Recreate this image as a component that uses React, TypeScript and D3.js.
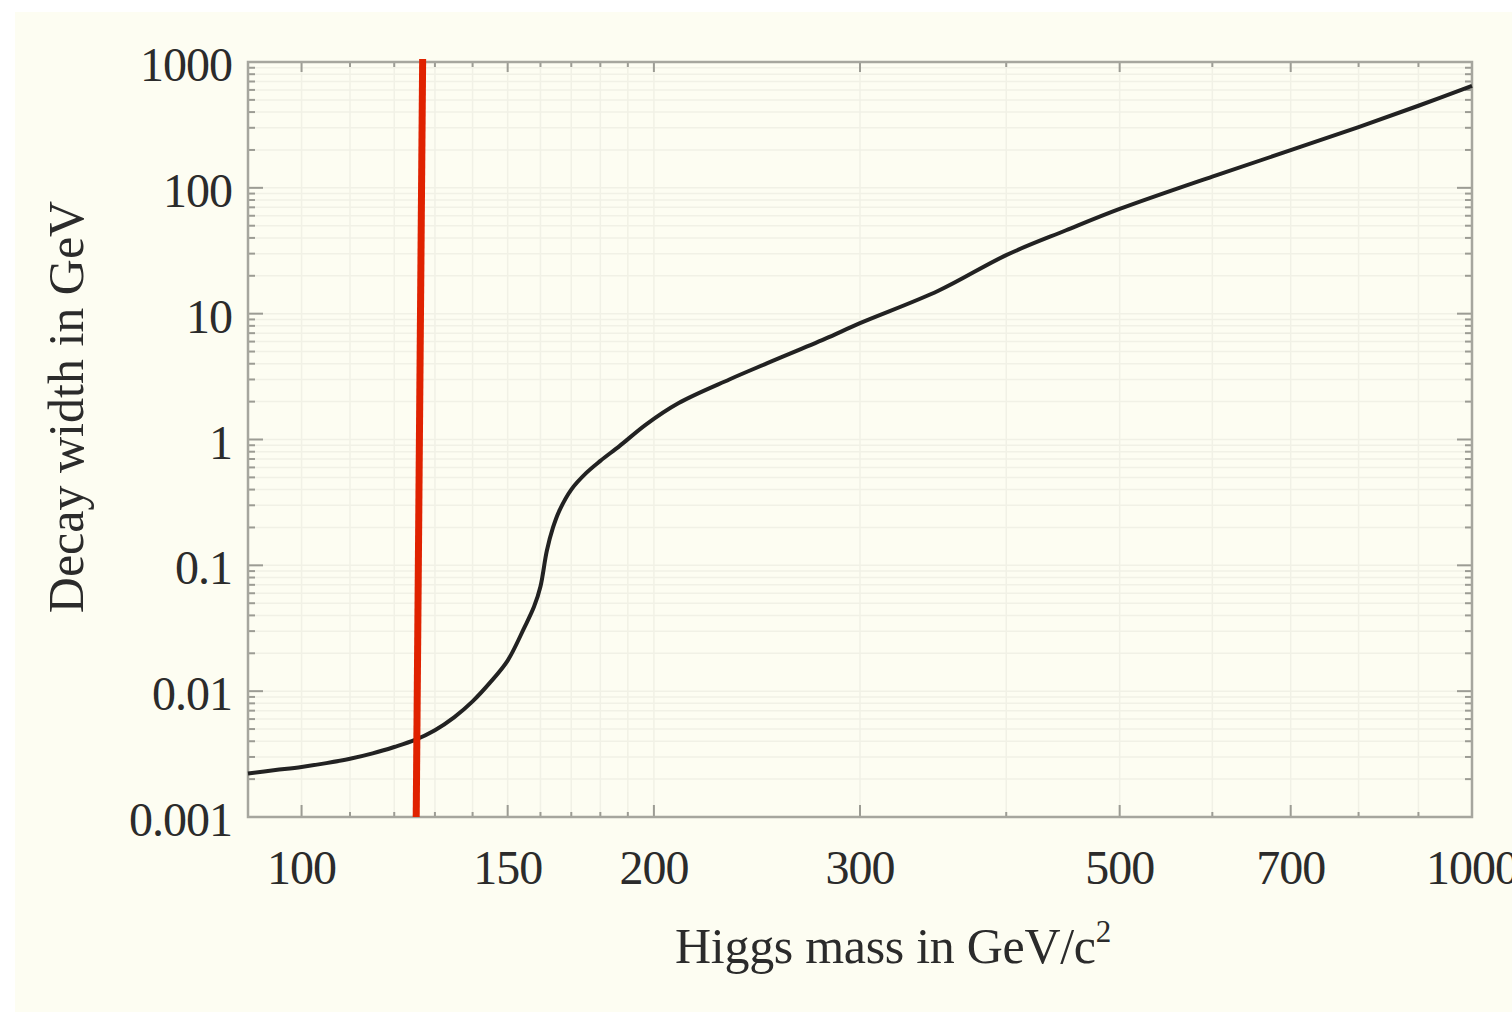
import React from "react";
import * as d3 from "d3";

// Higgs mass (GeV/c^2)
const masses = [90, 95, 100, 105, 110, 115, 120, 125, 130, 135, 140, 145, 150, 155, 158, 160, 162, 164, 166, 170, 175, 180, 187, 197, 210, 232, 250, 280, 300, 350, 400, 450, 500, 600, 700, 800, 900, 1000];
// Total decay width (GeV)
const widths = [0.00222, 0.00236, 0.0025, 0.00268, 0.0029, 0.0032, 0.0036, 0.0041, 0.0049, 0.0062, 0.0083, 0.0118, 0.0175, 0.032, 0.047, 0.068, 0.13, 0.2, 0.27, 0.4, 0.54, 0.676, 0.89, 1.32, 1.95, 3.0, 4.04, 6.3, 8.4, 15.2, 29.2, 46, 68, 123, 199, 304, 449, 647];

const xMajorTicks = [100, 150, 200, 300, 500, 700, 1000];
const xMinorTicks = [90, 110, 120, 130, 140, 160, 170, 180, 190, 400, 600, 800, 900];
const yMajorTicks = [0.001, 0.01, 0.1, 1, 10, 100, 1000];
const yMajorLabels = ["0.001", "0.01", "0.1", "1", "10", "100", "1000"];

// observed Higgs mass marker (hand-drawn, slightly tilted)
const markerMassTop = 126.9;
const markerMassBottom = 125.3;

const xTitle = "Higgs mass in GeV/c";
const yTitle = "Decay width in GeV";

export default function App() {
  const W = 1512, H = 1016;
  const L = 248, R = 1472, T = 62, B = 817;
  const x = d3.scaleLog().domain([90, 1000]).range([L, R]);
  const y = d3.scaleLog().domain([0.001, 1000]).range([B, T]);

  const yMinor: number[] = [];
  for (let e = -3; e < 3; e++) {
    for (let k = 2; k <= 9; k++) yMinor.push(k * Math.pow(10, e));
  }

  const data = masses.map((m, i) => [m, widths[i]] as [number, number]);
  const line = d3
    .line<[number, number]>()
    .x((d) => x(d[0]))
    .y((d) => y(d[1]))
    .curve(d3.curveCatmullRom.alpha(0.5));

  const allX = [...xMajorTicks, ...xMinorTicks];
  const allY = [...yMajorTicks, ...yMinor];
  const gridC = "#f1f1e6";
  const tickC = "#9c9c94";
  const font = "'Liberation Serif', 'Times New Roman', serif";
  const txtC = "#2b2b2b";

  return (
    <svg
      width={W}
      height={H}
      style={{ position: "absolute", left: 0, top: 0 }}
      xmlns="http://www.w3.org/2000/svg"
    >
      <rect x={0} y={0} width={W} height={H} fill="#ffffff" />
      <rect x={15} y={12} width={W - 15} height={1000} fill="#fdfdf2" />

      {/* grid */}
      {allX.map((v) => (
        <line key={"gx" + v} x1={x(v)} x2={x(v)} y1={T} y2={B} stroke={gridC} strokeWidth={1.5} />
      ))}
      {allY.map((v) => (
        <line key={"gy" + v} x1={L} x2={R} y1={y(v)} y2={y(v)} stroke={gridC} strokeWidth={1.5} />
      ))}

      {/* ticks x */}
      {xMajorTicks.map((v) => (
        <g key={"xt" + v}>
          <line x1={x(v)} x2={x(v)} y1={B} y2={B - 12} stroke={tickC} strokeWidth={2} />
          <line x1={x(v)} x2={x(v)} y1={T} y2={T + 10} stroke={tickC} strokeWidth={2} />
        </g>
      ))}
      {xMinorTicks.map((v) => (
        <g key={"xm" + v}>
          <line x1={x(v)} x2={x(v)} y1={B} y2={B - 5} stroke={tickC} strokeWidth={2} />
          <line x1={x(v)} x2={x(v)} y1={T} y2={T + 5} stroke={tickC} strokeWidth={2} />
        </g>
      ))}
      {/* ticks y */}
      {yMajorTicks.map((v) => (
        <g key={"yt" + v}>
          <line x1={L} x2={L + 15} y1={y(v)} y2={y(v)} stroke={tickC} strokeWidth={2} />
          <line x1={R} x2={R - 15} y1={y(v)} y2={y(v)} stroke={tickC} strokeWidth={2} />
        </g>
      ))}
      {yMinor.map((v) => (
        <g key={"ym" + v}>
          <line x1={L} x2={L + 7} y1={y(v)} y2={y(v)} stroke={tickC} strokeWidth={2} />
          <line x1={R} x2={R - 7} y1={y(v)} y2={y(v)} stroke={tickC} strokeWidth={2} />
        </g>
      ))}

      {/* frame */}
      <rect x={L} y={T} width={R - L} height={B - T} fill="none" stroke="#a6a69e" strokeWidth={2.5} />

      {/* curve */}
      <path d={line(data) || ""} fill="none" stroke="#222222" strokeWidth={4} />

      {/* red marker */}
      <line
        x1={x(markerMassTop)}
        x2={x(markerMassBottom)}
        y1={T - 3}
        y2={B}
        stroke="#e02200"
        strokeWidth={7}
      />

      {/* tick labels */}
      {yMajorTicks.map((v, i) => (
        <text
          key={"yl" + v}
          x={232}
          y={y(v) + 19}
          textAnchor="end"
          fontFamily={font}
          fontSize={48}
          fill={txtC}
          letterSpacing={-1}
        >
          {yMajorLabels[i]}
        </text>
      ))}
      {xMajorTicks.map((v) => (
        <text
          key={"xl" + v}
          x={x(v)}
          y={884}
          textAnchor="middle"
          fontFamily={font}
          fontSize={48}
          fill={txtC}
          letterSpacing={-1}
        >
          {String(v)}
        </text>
      ))}

      {/* titles */}
      <text x={893} y={963} textAnchor="middle" fontFamily={font} fontSize={50} fill={txtC} letterSpacing={-0.3}>
        {xTitle}
        <tspan fontSize={31} dy={-21}>2</tspan>
      </text>
      <text
        transform="translate(83,407) rotate(-90)"
        textAnchor="middle"
        fontFamily={font}
        fontSize={50}
        fill={txtC}
        letterSpacing={0}
      >
        {yTitle}
      </text>
    </svg>
  );
}
